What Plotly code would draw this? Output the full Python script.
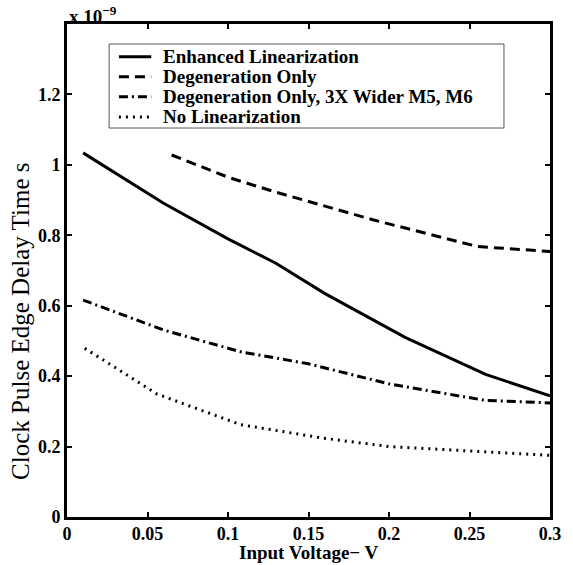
import plotly.graph_objects as go

# values in units of 1e-9 s
x_enh = [0.01, 0.06, 0.10, 0.13, 0.16, 0.21, 0.26, 0.30]
y_enh = [1.034, 0.891, 0.79, 0.72, 0.635, 0.51, 0.405, 0.344]

x_deg = [0.065, 0.10, 0.13, 0.19, 0.255, 0.30]
y_deg = [1.028, 0.965, 0.922, 0.844, 0.768, 0.754]

x_deg3 = [0.01, 0.06, 0.108, 0.15, 0.20, 0.26, 0.30]
y_deg3 = [0.616, 0.531, 0.469, 0.435, 0.378, 0.331, 0.324]

x_none = [0.011, 0.056, 0.108, 0.159, 0.20, 0.253, 0.30]
y_none = [0.479, 0.349, 0.262, 0.224, 0.20, 0.186, 0.175]

names = ["Enhanced Linearization", "Degeneration Only",
         "Degeneration Only, 3X Wider M5, M6", "No Linearization"]

x_ticks = [0, 0.05, 0.1, 0.15, 0.2, 0.25, 0.3]
x_ticktext = ["0", "0.05", "0.1", "0.15", "0.2", "0.25", "0.3"]
y_ticks = [0, 0.2, 0.4, 0.6, 0.8, 1.0, 1.2]
y_ticktext = ["0", "0.2", "0.4", "0.6", "0.8", "1", "1.2"]

FONT = "Liberation Serif, Times New Roman, serif"

fig = go.Figure()
dashes = ["solid", "10px,6px", "9px,4px,2px,4px", "2px,5px"]
for xs, ys, nm, ds in zip([x_enh, x_deg, x_deg3, x_none],
                          [y_enh, y_deg, y_deg3, y_none], names, dashes):
    fig.add_trace(go.Scatter(x=xs, y=ys, mode="lines", name=nm, showlegend=False,
                             line=dict(color="black", width=3, dash=ds)))

axis_common = dict(showline=True, linecolor="black", linewidth=3, mirror="ticks",
                   ticks="inside", ticklen=5, tickwidth=2, tickcolor="black",
                   showgrid=False, zeroline=False,
                   tickfont=dict(family=FONT, size=18, color="black", weight="bold"))

fig.update_xaxes(range=[0, 0.3], tickvals=x_ticks, ticktext=x_ticktext,
                 ticklabelstandoff=-2, **axis_common)
fig.update_yaxes(range=[0, 1.4], tickvals=y_ticks, ticktext=y_ticktext,
                 ticklabelstandoff=0, **axis_common)

# legend panel (paper coordinates)
leg_x0, leg_x1, leg_y0, leg_y1 = 0.0872, 0.9047, 0.789, 0.9594
row_y = [0.9337, 0.893, 0.8525, 0.8114]
samp_x0, samp_x1, text_x = 0.1075, 0.1744, 0.1947
shapes = [dict(type="rect", xref="paper", yref="paper", x0=leg_x0, x1=leg_x1,
               y0=leg_y0, y1=leg_y1, line=dict(color="#555555", width=1),
               fillcolor="white", layer="above")]
annotations = []
for nm, ds, ry in zip(names, dashes, row_y):
    shapes.append(dict(type="line", xref="paper", yref="paper", x0=samp_x0, x1=samp_x1,
                       y0=ry, y1=ry, line=dict(color="black", width=3, dash=ds),
                       layer="above"))
    annotations.append(dict(text=nm, xref="paper", yref="paper", x=text_x, y=ry,
                            xanchor="left", yanchor="middle", showarrow=False,
                            font=dict(family=FONT, size=19, color="black", weight="bold")))

annotations += [
    dict(text="x 10<sup>−9</sup>", xref="paper", yref="paper", x=0, y=1.0467,
         xanchor="left", yanchor="top", showarrow=False,
         font=dict(family=FONT, size=19, color="black", weight="bold")),
    dict(text="Clock Pulse Edge Delay Time s", xref="paper", yref="paper",
         x=-0.095, y=0.396, xanchor="center", yanchor="middle", textangle=-90,
         showarrow=False, font=dict(family=FONT, size=25, color="black")),
    dict(text="Input Voltage− V", xref="paper", yref="paper",
         x=0.5, y=-0.073, xanchor="center", yanchor="middle",
         showarrow=False, font=dict(family=FONT, size=19, color="black", weight="bold")),
]

fig.update_layout(
    width=573, height=565,
    margin=dict(l=67, r=13, t=24, b=48),
    plot_bgcolor="white", paper_bgcolor="white",
    showlegend=False,
    shapes=shapes,
    annotations=annotations,
)

fig.write_html("out.html", config={"displayModeBar": False},
               post_script="document.body.style.margin='0';")
